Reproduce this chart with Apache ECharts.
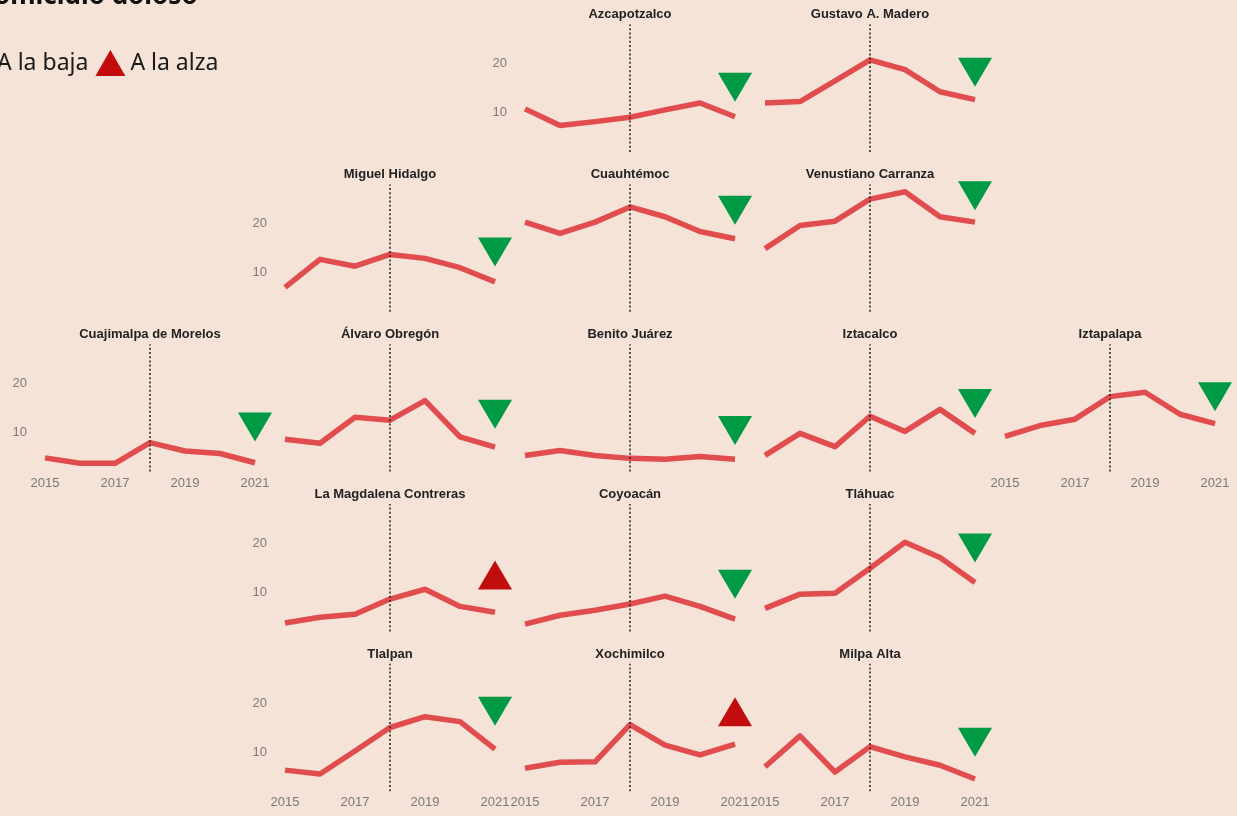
<!DOCTYPE html>
<html>
<head>
<meta charset="utf-8">
<script src="https://cdn.jsdelivr.net/npm/echarts@6/dist/echarts.min.js"></script>
<style>
  html, body { margin: 0; padding: 0; background: #f4e3d6; }
  #chart { width: 1237px; height: 816px; }
</style>
</head>
<body>
<div id="chart"></div>
<script>
// ---- Data ----
const years = ['2015', '2016', '2017', '2018', '2019', '2020', '2021'];
const markYear = '2018';
const yTickLabels = [10, 20];

const boroughs = [
  'Azcapotzalco', 'Gustavo A. Madero',
  'Miguel Hidalgo', 'Cuauhtémoc', 'Venustiano Carranza',
  'Cuajimalpa de Morelos', 'Álvaro Obregón', 'Benito Juárez', 'Iztacalco', 'Iztapalapa',
  'La Magdalena Contreras', 'Coyoacán', 'Tláhuac',
  'Tlalpan', 'Xochimilco', 'Milpa Alta'
];

const azcapotzalco = [10.8, 7.4, 8.2, 9.1, 10.6, 12.0, 9.2];
const gustavoAMadero = [12.0, 12.3, 16.5, 20.8, 18.8, 14.3, 12.7];
const miguelHidalgo = [7.0, 12.7, 11.3, 13.7, 12.9, 11.0, 8.1];
const cuauhtemoc = [20.3, 18.0, 20.3, 23.4, 21.4, 18.4, 16.9];
const venustianoCarranza = [14.9, 19.6, 20.5, 25.0, 26.5, 21.4, 20.3];
const cuajimalpa = [4.8, 3.7, 3.7, 7.9, 6.2, 5.7, 3.8];
const alvaroObregon = [8.6, 7.8, 13.1, 12.5, 16.5, 9.1, 7.0];
const benitoJuarez = [5.3, 6.3, 5.3, 4.7, 4.5, 5.1, 4.5];
const iztacalco = [5.3, 9.8, 7.1, 13.3, 10.2, 14.7, 9.8];
const iztapalapa = [9.2, 11.4, 12.7, 17.3, 18.2, 13.7, 11.8];
const magdalenaContreras = [3.7, 4.9, 5.5, 8.6, 10.6, 7.1, 5.9];
const coyoacan = [3.5, 5.3, 6.3, 7.6, 9.2, 7.1, 4.5];
const tlahuac = [6.7, 9.6, 9.8, 14.9, 20.2, 17.1, 12.0];
const tlalpan = [6.3, 5.5, 10.2, 15.0, 17.2, 16.2, 10.6];
const xochimilco = [6.7, 7.9, 8.0, 15.6, 11.4, 9.4, 11.6];
const milpaAlta = [7.0, 13.3, 5.9, 11.1, 9.0, 7.3, 4.5];

const seriesValues = [
  azcapotzalco, gustavoAMadero,
  miguelHidalgo, cuauhtemoc, venustianoCarranza,
  cuajimalpa, alvaroObregon, benitoJuarez, iztacalco, iztapalapa,
  magdalenaContreras, coyoacan, tlahuac,
  tlalpan, xochimilco, milpaAlta
];

// trend direction ('baja' = down, 'alza' = up) and the level where its marker sits
const trend = ['baja', 'baja', 'baja', 'baja', 'baja', 'baja', 'baja', 'baja', 'baja', 'baja',
               'alza', 'baja', 'baja', 'baja', 'alza', 'baja'];
const markerLevel = [15.2, 18.3, 14.2, 22.7, 25.7, 11.1, 13.7, 10.4, 15.9, 17.3,
                     13.5, 11.6, 19.0, 18.3, 18.2, 12.0];

const legendNames = { baja: 'A la baja', alza: 'A la alza' };

// ---- Layout (tile grid: [column, row]) ----
const tileCell = [
  [2, 0], [3, 0],
  [1, 1], [2, 1], [3, 1],
  [0, 2], [1, 2], [2, 2], [3, 2], [4, 2],
  [1, 3], [2, 3], [3, 3],
  [1, 4], [2, 4], [3, 4]
];

const COL_W = 240, ROW_H = 159.8, X0 = 45, PLOT_W = 210, ZERO0 = 161.8, UNIT = 4.9;
const Y_MIN = 2, Y_MAX = 28;
const LINE_COLOR = '#e14d4f';
const GREEN = '#009a45', RED = '#c10d0d';
const LABEL_FONT = '"Liberation Sans", Arial, sans-serif';

const bottomOfCol = {}, leftOfRow = {};
tileCell.forEach(([c, r], i) => {
  if (bottomOfCol[c] === undefined || tileCell[bottomOfCol[c]][1] < r) bottomOfCol[c] = i;
  if (leftOfRow[r] === undefined || tileCell[leftOfRow[r]][0] > c) leftOfRow[r] = i;
});

const grids = [], xAxes = [], yAxes = [], series = [], graphics = [];

boroughs.forEach((name, i) => {
  const [c, r] = tileCell[i];
  const zeroY = ZERO0 + ROW_H * r;
  const left = X0 + COL_W * c;
  grids.push({ left: left, width: PLOT_W, top: zeroY - Y_MAX * UNIT, height: (Y_MAX - Y_MIN) * UNIT });
  const showX = bottomOfCol[c] === i;
  const showY = leftOfRow[r] === i;
  xAxes.push({
    type: 'category', gridIndex: i, data: years, boundaryGap: false,
    axisLine: { show: false }, axisTick: { show: false }, splitLine: { show: false },
    axisLabel: { show: showX, interval: 1, color: '#7a7a7a', fontSize: 13, margin: 5, fontFamily: LABEL_FONT }
  });
  yAxes.push({
    type: 'value', gridIndex: i, min: Y_MIN, max: Y_MAX, interval: 2,
    axisLine: { show: false }, axisTick: { show: false }, splitLine: { show: false },
    axisLabel: {
      show: showY, color: '#7a7a7a', fontSize: 13, margin: 18, fontFamily: LABEL_FONT,
      formatter: v => (yTickLabels.indexOf(v) >= 0 ? String(v) : '')
    }
  });
  series.push({
    type: 'line', xAxisIndex: i, yAxisIndex: i, data: seriesValues[i],
    symbol: 'none', silent: true, z: 3,
    lineStyle: { color: LINE_COLOR, width: 5.5, join: 'round' },
    markLine: {
      silent: true, symbol: ['none', 'none'], label: { show: false },
      lineStyle: { color: '#222', type: [2, 2.2], width: 1.5 },
      data: [{ xAxis: markYear }]
    }
  });
  const up = trend[i] === 'alza';
  series.push({
    type: 'scatter', name: legendNames[trend[i]], xAxisIndex: i, yAxisIndex: i,
    data: [[years[years.length - 1], markerLevel[i]]],
    symbol: 'triangle', symbolSize: [34, 29], symbolRotate: up ? 0 : 180,
    itemStyle: { color: up ? RED : GREEN, opacity: 1 }, clip: false, silent: true, z: 4
  });
  graphics.push({
    type: 'text', x: left + PLOT_W / 2, y: zeroY - 147, silent: true,
    style: {
      text: name, align: 'center', verticalAlign: 'middle',
      font: 'bold 13px ' + LABEL_FONT, fill: '#222'
    }
  });
});

const chart = echarts.init(document.getElementById('chart'));
chart.setOption({
  backgroundColor: '#f4e3d6',
  animation: false,
  title: {
    text: 'Homicidio doloso', left: -31, top: -21,
    textStyle: { fontSize: 26, fontWeight: 'bold', color: '#111', fontFamily: '"Noto Sans", sans-serif' }
  },
  legend: {
    left: -43, top: 45, itemWidth: 30, itemHeight: 26, itemGap: 7, selectedMode: false,
    textStyle: { fontSize: 23, color: '#1a1a1a', fontFamily: '"Noto Sans", sans-serif' },
    data: [
      { name: legendNames.baja, icon: 'path://M0,0L10,0L5,8.66Z', itemStyle: { color: GREEN, opacity: 1 } },
      { name: legendNames.alza, icon: 'triangle', itemStyle: { color: RED, opacity: 1 } }
    ]
  },
  grid: grids,
  xAxis: xAxes,
  yAxis: yAxes,
  series: series,
  graphic: graphics
});
</script>
</body>
</html>
